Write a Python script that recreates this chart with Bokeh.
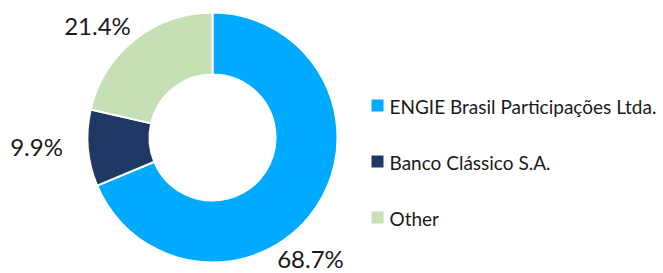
import numpy as np
from bokeh.plotting import figure
from bokeh.models import Range1d, ColumnDataSource
from bokeh.core.properties import value
from bokeh.embed import file_html
from bokeh.resources import INLINE

# ---- data ----
categories = ["ENGIE Brasil Participações Ltda.", "Banco Clássico S.A.", "Other"]
shares = [68.7, 9.9, 21.4]
share_labels = ["68.7%", "9.9%", "21.4%"]
colors = ["#00AAFF", "#203864", "#C5E0B4"]

# ---- layout (pixel-like data units, y up) ----
W, H = 663, 273
cx, cy = 212, 136
r_out, r_in = 125, 63
label_x = [310, 36, 97]
label_y = [15, 127.5, 248.5]
leg_sq_x = 377
leg_sq_y = [168, 112, 56]
leg_txt_x = 389
leg_txt_y = [166.7, 111, 55]

vals = np.array(shares, dtype=float)
frac = vals / vals.sum()
cum = np.concatenate([[0.0], np.cumsum(frac)])
start = np.pi / 2 - 2 * np.pi * cum[1:]
end = np.pi / 2 - 2 * np.pi * cum[:-1]

src = ColumnDataSource(dict(start=start, end=end, color=colors))

p = figure(width=W, height=H, x_range=Range1d(0, W), y_range=Range1d(0, H),
           output_backend="svg", toolbar_location=None, min_border=0)
p.axis.visible = False
p.grid.visible = False
p.outline_line_color = None
p.background_fill_color = "white"

p.annular_wedge(x=cx, y=cy, inner_radius=r_in, outer_radius=r_out,
                start_angle="start", end_angle="end", direction="anticlock",
                fill_color="color", line_color="white", line_width=2, source=src)

p.text(x=label_x, y=label_y, text=share_labels, text_font=value("Lato"),
       text_font_size="24px", text_color="#1a1a1a", text_align="center",
       text_baseline="middle")

p.rect(x=[leg_sq_x] * 3, y=leg_sq_y, width=12, height=12,
       fill_color=colors, line_color=None)
p.text(x=[leg_txt_x] * 3, y=leg_txt_y, text=categories, text_font=value("Lato"),
       text_font_size="19px", text_color="#1a1a1a", text_align="left",
       text_baseline="middle")

open("out.html", "w").write(file_html(p, INLINE))
